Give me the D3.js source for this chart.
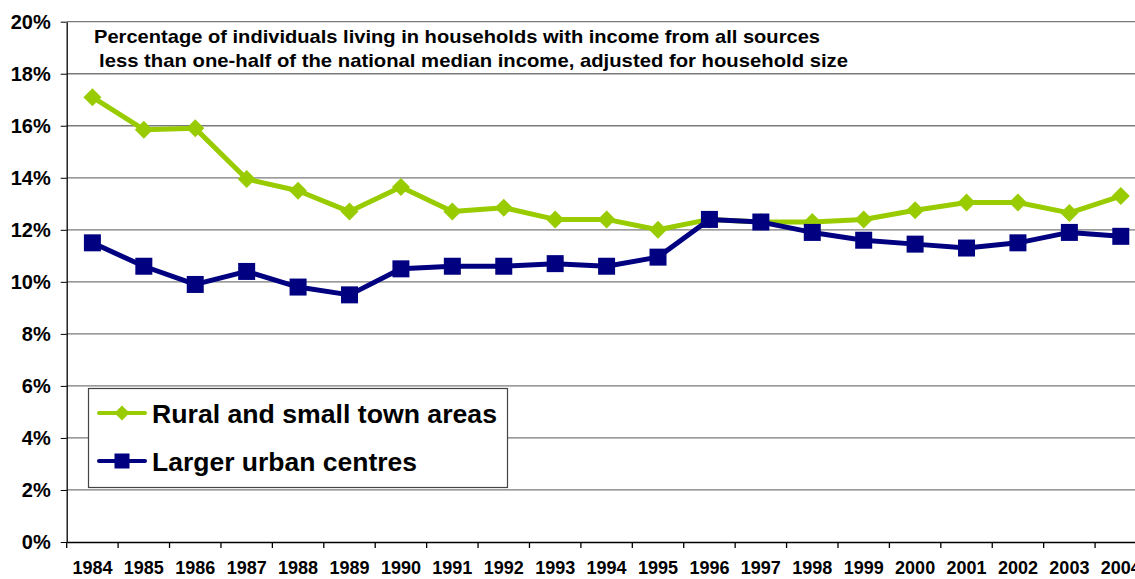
<!DOCTYPE html>
<html>
<head>
<meta charset="utf-8">
<script src="https://cdn.jsdelivr.net/npm/d3@7"></script>
<style>
  body { margin: 0; background: #fff; }
  svg { display: block; font-family: Arial, "Liberation Sans", sans-serif; font-weight: bold; }
</style>
</head>
<body>
<svg id="chart" width="1135" height="579"></svg>
<script>
const years = ["1984", "1985", "1986", "1987", "1988", "1989", "1990", "1991", "1992", "1993", "1994",
  "1995", "1996", "1997", "1998", "1999", "2000", "2001", "2002", "2003", "2004"];
const rural = [17.1, 15.85, 15.9, 13.95, 13.5, 12.7, 13.65, 12.7, 12.85, 12.4, 12.4,
  12.0, 12.4, 12.3, 12.3, 12.4, 12.75, 13.05, 13.05, 12.65, 13.3];
const urban = [11.5, 10.6, 9.9, 10.4, 9.8, 9.5, 10.5, 10.6, 10.6, 10.7, 10.6,
  10.95, 12.4, 12.3, 11.9, 11.6, 11.45, 11.3, 11.5, 11.9, 11.75];
const yTicks = [0, 2, 4, 6, 8, 10, 12, 14, 16, 18, 20];
const titleLines = [
  "Percentage of individuals living in households with income from all sources",
  " less than one-half of the national median income, adjusted for household size"
];
const seriesNames = ["Rural and small town areas", "Larger urban centres"];

const GREEN = "#99cc00", NAVY = "#000080";

const svg = d3.select("#chart");

// plot runs off the right edge like the original export
const x = d3.scaleBand().domain(years).range([66.7, 1146.5]);
const y = d3.scaleLinear().domain([0, 20]).range([542, 21.7]);

// gridlines
svg.append("g")
  .selectAll("line")
  .data(yTicks.filter(d => d > 0))
  .join("line")
  .attr("x1", x.range()[0]).attr("x2", x.range()[1])
  .attr("y1", d => y(d)).attr("y2", d => y(d))
  .attr("stroke", "#7a7a7a").attr("stroke-width", 1.3);

// y axis
const yAxis = svg.append("g")
  .attr("transform", `translate(${x.range()[0]},0)`)
  .call(d3.axisLeft(y).tickValues(yTicks).tickFormat(d => d + "%").tickSize(6).tickSizeOuter(0));
yAxis.select(".domain").attr("stroke", "#000").attr("stroke-width", 1.3);
yAxis.selectAll(".tick line").attr("stroke", "#000");
yAxis.selectAll("text")
  .attr("x", -16)
  .attr("font-family", "Arial, 'Liberation Sans', sans-serif")
  .attr("font-weight", "bold")
  .attr("font-size", 20)
  .attr("fill", "#000");

// x axis: labels centred, ticks at the category boundaries
const xAxis = svg.append("g")
  .attr("transform", `translate(0,${y(0)})`)
  .call(d3.axisBottom(x).tickSize(0).tickPadding(19));
xAxis.select(".domain").attr("stroke", "#000").attr("stroke-width", 1.3);
xAxis.selectAll("text")
  .attr("font-family", "Arial, 'Liberation Sans', sans-serif")
  .attr("font-weight", "bold")
  .attr("font-size", 18)
  .attr("fill", "#000");
xAxis.selectAll(".boundary")
  .data(years.concat(["end"]))
  .join("line")
  .attr("class", "boundary")
  .attr("x1", (d, i) => x.range()[0] + i * x.bandwidth())
  .attr("x2", (d, i) => x.range()[0] + i * x.bandwidth())
  .attr("y1", 0).attr("y2", 6)
  .attr("stroke", "#000").attr("stroke-width", 1.3);

// title
svg.append("g")
  .selectAll("text")
  .data(titleLines)
  .join("text")
  .attr("x", (d, i) => i === 0 ? 94 : 99)
  .attr("y", (d, i) => 43 + i * 24)
  .attr("font-size", 19)
  .attr("textLength", (d, i) => i === 0 ? 726 : 749)
  .attr("lengthAdjust", "spacingAndGlyphs")
  .text(d => d.trim());

// series
const line = d3.line()
  .x((d, i) => x(years[i]) + x.bandwidth() / 2)
  .y(d => y(d));

const diamond = s => `M0,${-s}L${s},0L0,${s}L${-s},0Z`;
const square = s => `M${-s},${-s}H${s}V${s}H${-s}Z`;

function drawSeries(values, color, shape, size) {
  const g = svg.append("g");
  g.append("path")
    .datum(values)
    .attr("d", line)
    .attr("fill", "none")
    .attr("stroke", color)
    .attr("stroke-width", 5)
    .attr("stroke-linejoin", "round");
  g.selectAll("path.marker")
    .data(values)
    .join("path")
    .attr("class", "marker")
    .attr("transform", (d, i) => `translate(${x(years[i]) + x.bandwidth() / 2},${y(d)})`)
    .attr("d", shape(size))
    .attr("fill", color);
}
drawSeries(rural, GREEN, diamond, 9);
drawSeries(urban, NAVY, square, 8.5);

// legend
const legend = svg.append("g");
legend.append("rect")
  .attr("x", 88.5).attr("y", 388.5)
  .attr("width", 419).attr("height", 99)
  .attr("fill", "#fff").attr("stroke", "#444").attr("stroke-width", 1.2);

const legendItems = [
  { name: seriesNames[0], color: GREEN, shape: diamond, size: 7.5, width: 345 },
  { name: seriesNames[1], color: NAVY, shape: square, size: 7.5, width: 265 }
];
const li = legend.selectAll("g.item")
  .data(legendItems)
  .join("g")
  .attr("class", "item")
  .attr("transform", (d, i) => `translate(0,${413 + i * 48})`);
li.append("line")
  .attr("x1", 99).attr("x2", 145)
  .attr("stroke", d => d.color).attr("stroke-width", 4).attr("stroke-linecap", "round");
li.append("path")
  .attr("transform", "translate(122,0)")
  .attr("d", d => d.shape(d.size))
  .attr("fill", d => d.color);
li.append("text")
  .attr("x", 152).attr("y", 10)
  .attr("font-size", 25)
  .attr("textLength", d => d.width)
  .attr("lengthAdjust", "spacingAndGlyphs")
  .text(d => d.name);
</script>
</body>
</html>
